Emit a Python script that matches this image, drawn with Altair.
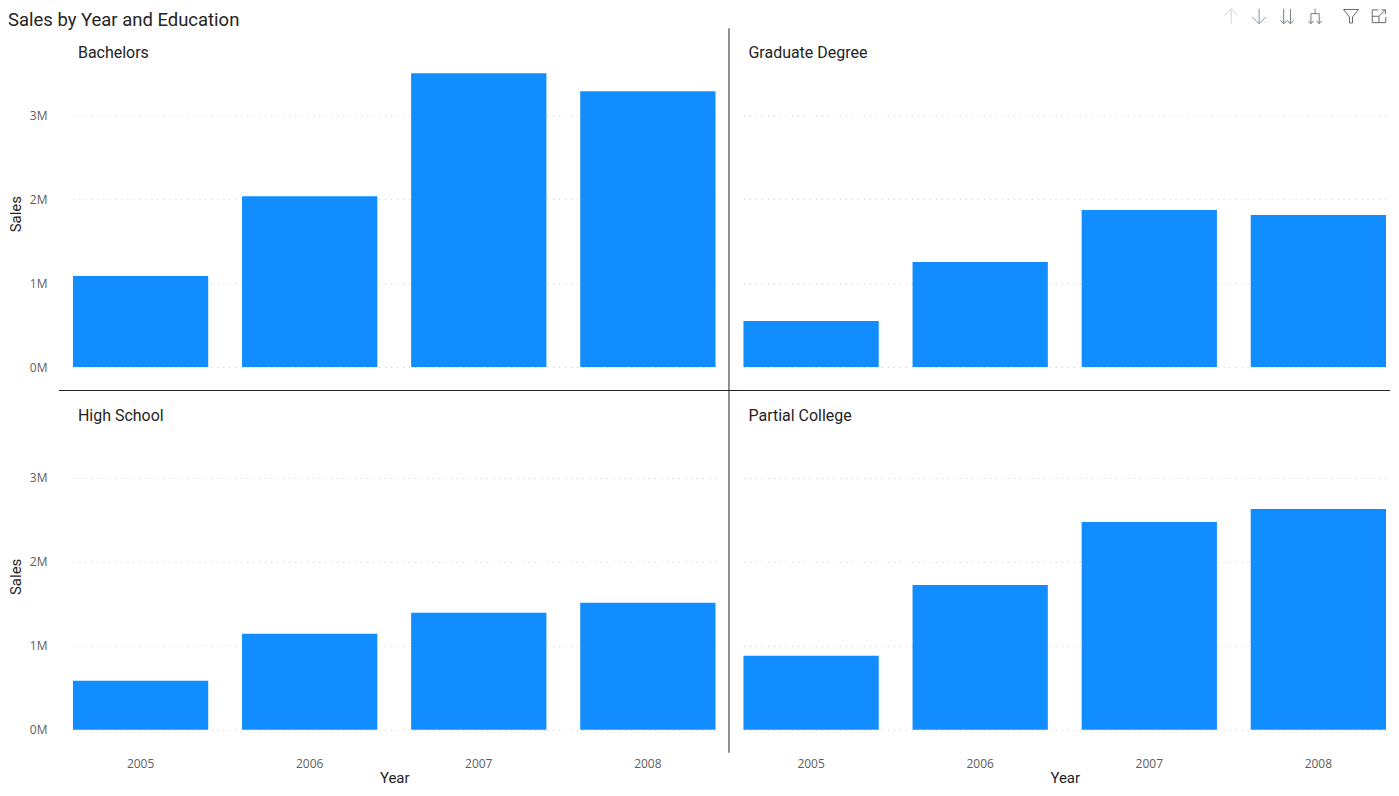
import altair as alt
import pandas as pd

TITLE = "Sales by Year and Education"
YEARS = ["2005", "2006", "2007", "2008"]
EDUCATION = ["Bachelors", "Graduate Degree", "High School", "Partial College"]
BACHELORS = [1.083, 2.036, 3.50, 3.286]
GRADUATE = [0.548, 1.25, 1.87, 1.81]
HIGH_SCHOOL = [0.583, 1.143, 1.393, 1.512]
PARTIAL = [0.881, 1.726, 2.476, 2.63]
SERIES = [BACHELORS, GRADUATE, HIGH_SCHOOL, PARTIAL]
Y_TICKS = [0, 1_000_000, 2_000_000, 3_000_000]
Y_MAX = 3_655_000

W, H = 643, 307
TEXT = "#252423"
MUTED = "#605E5C"
BODY_FONT = "Open Sans"
HEAD_FONT = "Roboto"

ICONS = [
    ("M0 1V-1M-0.9 -0.1L0 -1L0.9 -0.1", 488, "#C8D6D6"),
    ("M0 -1V1M-0.9 0.1L0 1L0.9 0.1", 516, "#7C93A8"),
    ("M-0.45 -1V1M-0.9 0.55L-0.45 1L0 0.55M0.45 -1V1M0 0.55L0.45 1L0.9 0.55", 544, "#6F8172"),
    ("M0 -1V-0.35M-0.55 -0.35H0.55M-0.55 -0.35V1M0.55 -0.35V1M-0.9 0.6L-0.55 1L-0.2 0.6M0.2 0.6L0.55 1L0.9 0.6", 572, "#6F8172"),
    ("M-1 -0.9H1L0.2 0.1V0.9H-0.2V0.1Z", 608, "#6B6470"),
    ("M-0.1 -0.85H-0.9V0.85H0.9V0.1M-0.9 0H0V0.85M0.05 -0.05L0.85 -0.85M0.3 -0.85H0.85V-0.3", 636, "#6B6470"),
]


def panel(idx):
    name = EDUCATION[idx]
    left = idx % 2 == 0
    bottom = idx >= 2
    df = pd.DataFrame({"Year": YEARS, "Sales": [v * 1_000_000 for v in SERIES[idx]]})

    x_axis = alt.Axis(
        title="Year" if bottom else None,
        labels=bottom,
        labelAngle=0,
        labelColor=MUTED,
        labelFont=BODY_FONT,
        labelFontSize=12,
        labelPadding=29,
        ticks=False,
        domain=False,
        grid=False,
        titleColor=TEXT,
        titleFont=HEAD_FONT,
        titleFontSize=15,
        titleFontWeight="normal",
        titlePadding=1,
    )
    y_axis = alt.Axis(
        title="Sales" if left else None,
        values=Y_TICKS,
        labels=left,
        labelExpr="(datum.value / 1000000) + 'M'",
        labelColor=MUTED,
        labelFont=BODY_FONT,
        labelFontSize=12,
        labelPadding=26,
        ticks=False,
        domain=False,
        grid=True,
        gridColor="#C8C6C4",
        gridDash=[1, 5],
        gridWidth=1,
        titleColor=TEXT,
        titleFont=HEAD_FONT,
        titleFontSize=15,
        titleFontWeight="normal",
        titlePadding=6,
    )
    bars = alt.Chart(df).mark_bar(color="#118DFF").encode(
        x=alt.X("Year:N", axis=x_axis, sort=YEARS,
                scale=alt.Scale(paddingInner=0.2, paddingOuter=0)),
        y=alt.Y("Sales:Q", axis=y_axis,
                scale=alt.Scale(domain=[0, Y_MAX], nice=False)),
    )
    label = alt.Chart(pd.DataFrame({"t": [name]})).mark_text(
        align="left", baseline="middle", font=HEAD_FONT, fontSize=16, color=TEXT
    ).encode(x=alt.value(5), y=alt.value(-7), text="t:N")

    layers = [bars, label]

    if left:
        layers.append(
            alt.Chart(pd.DataFrame({"a": [0]})).mark_rule(color="#222222", strokeWidth=1).encode(
                x=alt.value(656.5),
                y=alt.value(-32 if not bottom else -33),
                y2=alt.value(330),
            )
        )
    if not bottom:
        layers.append(
            alt.Chart(pd.DataFrame({"a": [0]})).mark_rule(color="#222222", strokeWidth=1).encode(
                x=alt.value(-14),
                x2=alt.value(647 if not left else 672),
                y=alt.value(330.5),
            )
        )
    if idx == 0:
        layers.append(
            alt.Chart(pd.DataFrame({"t": [TITLE]})).mark_text(
                align="left", baseline="alphabetic", font=HEAD_FONT, fontSize=18.5, color=TEXT
            ).encode(x=alt.value(-65), y=alt.value(-34), text="t:N")
        )
    if idx == 1:
        for path, xpos, col in ICONS:
            layers.append(
                alt.Chart(pd.DataFrame({"a": [0]})).mark_point(
                    shape=path, size=225, color=col, filled=False, strokeWidth=1, opacity=1
                ).encode(x=alt.value(xpos), y=alt.value(-44))
            )
    return alt.layer(*layers).properties(width=W, height=H)


chart = (
    alt.concat(*[panel(i) for i in range(4)], columns=2, spacing={"row": 56, "column": 28})
    .properties(bounds="flush", padding={"left": 0, "top": -2, "right": 0, "bottom": 0}, background="white")
    .configure_view(stroke=None)
)

chart.save("out.html", embed_options={"renderer": "svg", "actions": False})
